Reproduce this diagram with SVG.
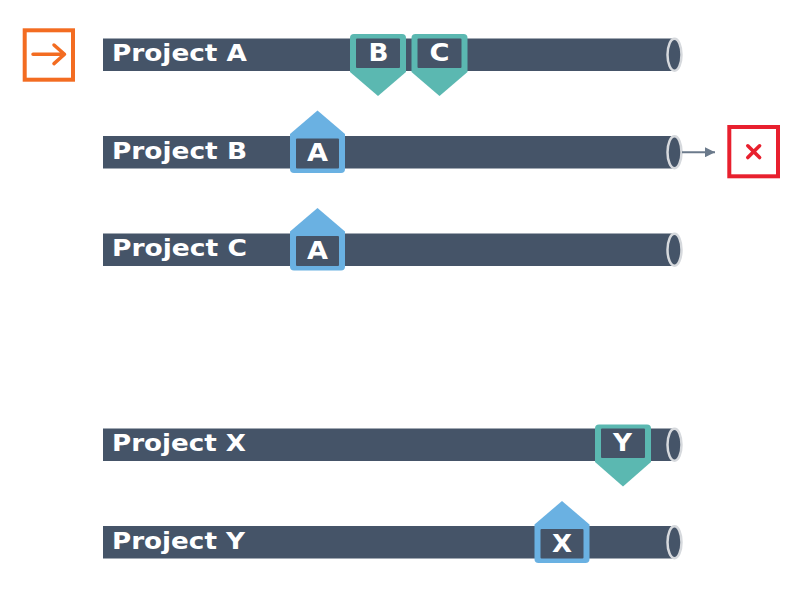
<svg xmlns="http://www.w3.org/2000/svg" width="800" height="602" viewBox="0 0 800 602">
  <defs>
    <style>
      .bar { fill: #455468; }
      .cap { fill: #455468; stroke: #d6d9dd; stroke-width: 2.5; }
      .label { font-family: "DejaVu Sans", "Liberation Sans", sans-serif; font-weight: bold; font-size: 23px; fill: #ffffff; }
      .letter { font-family: "DejaVu Sans", "Liberation Sans", sans-serif; font-weight: bold; font-size: 24px; fill: #ffffff; text-anchor: middle; }
      .teal { fill: #5bb8b1; }
      .blue { fill: #6ab1e2; }
      .inner { fill: #455468; }
      .conn { stroke: #6b7a8b; stroke-width: 2; fill: none; }
    </style>
    <marker id="arrow" viewBox="0 0 10 10" refX="10" refY="5" markerWidth="10" markerHeight="10" markerUnits="userSpaceOnUse" orient="auto">
      <path d="M0,0 L10,5 L0,10 Z" fill="#6b7a8b"/>
    </marker>
  </defs>

  <!-- entry icon -->
  <g id="start-icon">
    <rect x="24.7" y="30.3" width="48.3" height="49.4" fill="#ffffff" stroke="#f36c21" stroke-width="4"/>
    <path d="M33,54.3 H64.5 M54,45 L64.5,54.3 L54,63.6" fill="none" stroke="#f36c21" stroke-width="3.5" stroke-linecap="round" stroke-linejoin="round"/>
  </g>

  <!-- Project A -->
  <g id="project-a">
    <rect class="bar" x="103" y="38.5" width="571.5" height="32.5"/>
    <ellipse class="cap" cx="674.5" cy="54.75" rx="7" ry="16"/>
    <text class="label" x="112" y="60.5" textLength="135" lengthAdjust="spacingAndGlyphs">Project A</text>
    <g id="dep-a-b">
      <path class="teal" d="M350,72 V38 Q350,34 354,34 H402 Q406,34 406,38 V72 L378,96 Z"/>
      <rect class="inner" x="356" y="38.5" width="44" height="29.5" rx="1"/>
      <text class="letter" x="378.5" y="61" textLength="20" lengthAdjust="spacingAndGlyphs">B</text>
    </g>
    <g id="dep-a-c">
      <path class="teal" d="M411.5,72 V38 Q411.5,34 415.5,34 H463.5 Q467.5,34 467.5,38 V72 L439.5,96 Z"/>
      <rect class="inner" x="417.5" y="38.5" width="44" height="29.5" rx="1"/>
      <text class="letter" x="439.5" y="61" textLength="20" lengthAdjust="spacingAndGlyphs">C</text>
    </g>
  </g>

  <!-- Project B -->
  <g id="project-b">
    <rect class="bar" x="103" y="136" width="571.5" height="32.5"/>
    <ellipse class="cap" cx="674.5" cy="152.25" rx="7" ry="16"/>
    <text class="label" x="112" y="158.5" textLength="135" lengthAdjust="spacingAndGlyphs">Project B</text>
    <g id="dep-b-a">
      <path class="blue" d="M290,134 L317.5,110.5 L345,134 V169 Q345,173 341,173 H294 Q290,173 290,169 Z"/>
      <rect class="inner" x="296" y="138.5" width="43" height="30" rx="1"/>
      <text class="letter" x="317.5" y="161" textLength="21" lengthAdjust="spacingAndGlyphs">A</text>
    </g>
  </g>

  <!-- Project C -->
  <g id="project-c">
    <rect class="bar" x="103" y="233.5" width="571.5" height="32.5"/>
    <ellipse class="cap" cx="674.5" cy="249.75" rx="7" ry="16"/>
    <text class="label" x="112" y="256" textLength="135" lengthAdjust="spacingAndGlyphs">Project C</text>
    <g id="dep-c-a">
      <path class="blue" d="M290,231.5 L317.5,208 L345,231.5 V266.5 Q345,270.5 341,270.5 H294 Q290,270.5 290,266.5 Z"/>
      <rect class="inner" x="296" y="236" width="43" height="30" rx="1"/>
      <text class="letter" x="317.5" y="258.5" textLength="21" lengthAdjust="spacingAndGlyphs">A</text>
    </g>
  </g>

  <!-- Project X -->
  <g id="project-x">
    <rect class="bar" x="103" y="428.5" width="571.5" height="32.5"/>
    <ellipse class="cap" cx="674.5" cy="444.75" rx="7" ry="16"/>
    <text class="label" x="112" y="451" textLength="134" lengthAdjust="spacingAndGlyphs">Project X</text>
    <g id="dep-x-y">
      <path class="teal" d="M595,462 V428.5 Q595,424.5 599,424.5 H647 Q651,424.5 651,428.5 V462 L623,486.5 Z"/>
      <rect class="inner" x="601" y="428.5" width="44" height="29.5" rx="1"/>
      <text class="letter" x="622.5" y="451" textLength="19" lengthAdjust="spacingAndGlyphs">Y</text>
    </g>
  </g>

  <!-- Project Y -->
  <g id="project-y">
    <rect class="bar" x="103" y="526" width="571.5" height="32.5"/>
    <ellipse class="cap" cx="674.5" cy="542.25" rx="7" ry="16"/>
    <text class="label" x="112" y="548.5" textLength="133" lengthAdjust="spacingAndGlyphs">Project Y</text>
    <g id="dep-y-x">
      <path class="blue" d="M534.5,524.5 L562,501 L589.5,524.5 V559 Q589.5,563 585.5,563 H538.5 Q534.5,563 534.5,559 Z"/>
      <rect class="inner" x="540.5" y="529" width="43" height="29.5" rx="1"/>
      <text class="letter" x="562" y="551.5" textLength="20" lengthAdjust="spacingAndGlyphs">X</text>
    </g>
  </g>

  <!-- failure icon -->
  <g id="fail-icon">
    <rect x="729.3" y="127" width="48.7" height="49.3" fill="#ffffff" stroke="#e8202e" stroke-width="4"/>
    <path d="M747.8,145.8 L759.6,157.6 M759.6,145.8 L747.8,157.6" stroke="#e8202e" stroke-width="3.6" stroke-linecap="round"/>
  </g>

  <!-- connectors -->
  <g id="connectors">
    <line class="conn" x1="682" y1="152.25" x2="715" y2="152.25" marker-end="url(#arrow)"/>
  </g>
</svg>
